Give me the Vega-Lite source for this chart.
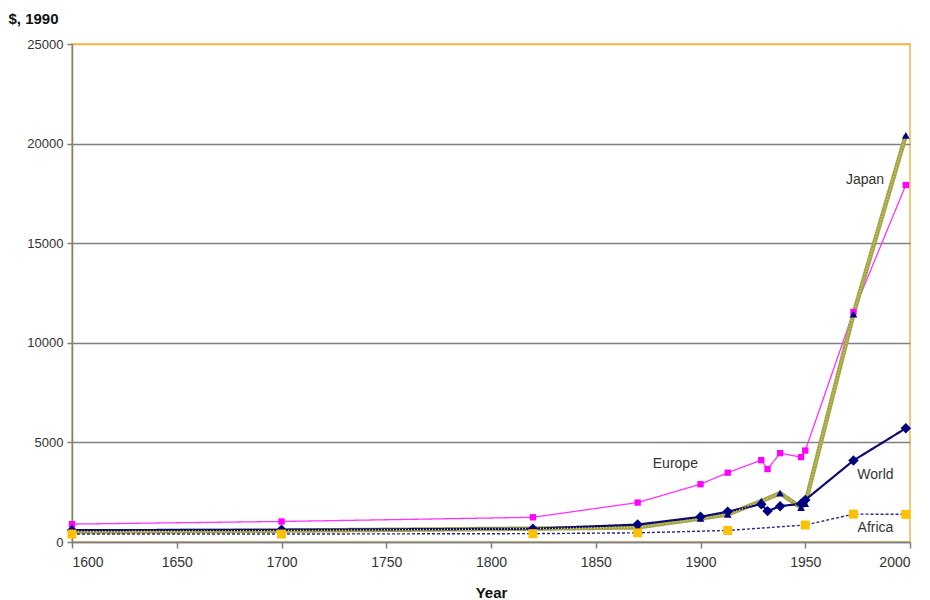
{
  "$schema": "https://vega.github.io/schema/vega-lite/v6.json",
  "width": 838,
  "height": 498,
  "autosize": "none",
  "padding": {"left": 72, "top": 44, "right": 20, "bottom": 58},
  "background": "white",
  "config": {
    "font": "Liberation Sans",
    "view": {"stroke": "#f5b54a", "strokeWidth": 1.5},
    "axis": {
      "labelFont": "Liberation Sans",
      "labelFontSize": 13,
      "labelColor": "#333333",
      "titleFont": "Liberation Sans",
      "titleFontSize": 15,
      "titleFontWeight": "bold",
      "titleColor": "#111111",
      "domainColor": "#7f7f7f",
      "domainWidth": 1.5,
      "tickColor": "#7f7f7f",
      "tickWidth": 1.5,
      "gridWidth": 1.3
    }
  },
  "datasets": {
    "series": [
      {"series": "Europe", "year": 1600, "gdp": 900},
      {"series": "Europe", "year": 1700, "gdp": 1030},
      {"series": "Europe", "year": 1820, "gdp": 1240},
      {"series": "Europe", "year": 1870, "gdp": 1980},
      {"series": "Europe", "year": 1900, "gdp": 2900},
      {"series": "Europe", "year": 1913, "gdp": 3480},
      {"series": "Europe", "year": 1929, "gdp": 4110},
      {"series": "Europe", "year": 1932, "gdp": 3660},
      {"series": "Europe", "year": 1938, "gdp": 4460},
      {"series": "Europe", "year": 1948, "gdp": 4260},
      {"series": "Europe", "year": 1950, "gdp": 4590},
      {"series": "Europe", "year": 1973, "gdp": 11550},
      {"series": "Europe", "year": 1998, "gdp": 17920},
      {"series": "Japan", "year": 1600, "gdp": 520},
      {"series": "Japan", "year": 1700, "gdp": 570},
      {"series": "Japan", "year": 1820, "gdp": 669},
      {"series": "Japan", "year": 1870, "gdp": 737},
      {"series": "Japan", "year": 1900, "gdp": 1180},
      {"series": "Japan", "year": 1913, "gdp": 1387},
      {"series": "Japan", "year": 1929, "gdp": 2050},
      {"series": "Japan", "year": 1938, "gdp": 2449},
      {"series": "Japan", "year": 1948, "gdp": 1725},
      {"series": "Japan", "year": 1950, "gdp": 1921},
      {"series": "Japan", "year": 1973, "gdp": 11439},
      {"series": "Japan", "year": 1998, "gdp": 20413},
      {"series": "World", "year": 1600, "gdp": 596},
      {"series": "World", "year": 1700, "gdp": 615},
      {"series": "World", "year": 1820, "gdp": 667},
      {"series": "World", "year": 1870, "gdp": 875},
      {"series": "World", "year": 1900, "gdp": 1262},
      {"series": "World", "year": 1913, "gdp": 1525},
      {"series": "World", "year": 1929, "gdp": 1900},
      {"series": "World", "year": 1932, "gdp": 1550},
      {"series": "World", "year": 1938, "gdp": 1800},
      {"series": "World", "year": 1948, "gdp": 1920},
      {"series": "World", "year": 1950, "gdp": 2111},
      {"series": "World", "year": 1973, "gdp": 4091},
      {"series": "World", "year": 1998, "gdp": 5709},
      {"series": "Africa", "year": 1600, "gdp": 400},
      {"series": "Africa", "year": 1700, "gdp": 400},
      {"series": "Africa", "year": 1820, "gdp": 420},
      {"series": "Africa", "year": 1870, "gdp": 460},
      {"series": "Africa", "year": 1913, "gdp": 580},
      {"series": "Africa", "year": 1950, "gdp": 852},
      {"series": "Africa", "year": 1973, "gdp": 1400},
      {"series": "Africa", "year": 1998, "gdp": 1390}
    ],
    "labels": [
      {"label": "Japan", "year": 1978.5, "gdp": 18150},
      {"label": "Europe", "year": 1888, "gdp": 3900},
      {"label": "World", "year": 1983.5, "gdp": 3350},
      {"label": "Africa", "year": 1983.5, "gdp": 680}
    ]
  },
  "layer": [
    {
      "data": {"name": "series"},
      "mark": {"type": "line", "strokeJoin": "round"},
      "encoding": {
        "x": {
          "field": "year", "type": "quantitative",
          "scale": {"domain": [1600, 2000], "nice": false, "zero": false},
          "axis": {
            "title": "Year",
            "values": [1600, 1650, 1700, 1750, 1800, 1850, 1900, 1950, 2000],
            "format": "d",
            "grid": false,
            "labelFontSize": 14,
            "tickSize": 6,
            "labelPadding": 7,
            "titlePadding": 16
          }
        },
        "y": {
          "field": "gdp", "type": "quantitative",
          "scale": {"domain": [0, 25000], "nice": false},
          "axis": {
            "title": "$, 1990",
            "titleAngle": 0,
            "titleAlign": "left",
            "titleBaseline": "alphabetic",
            "titleX": -64,
            "titleY": -21,
            "values": [0, 5000, 10000, 15000, 20000, 25000],
            "format": "d",
            "grid": true,
            "gridColor": {"condition": {"test": "datum.value === 25000", "value": "#f5b54a"}, "value": "#808080"},
            "tickSize": 5,
            "labelPadding": 4
          }
        },
        "detail": {"field": "series"},
        "order": {"field": "year"},
        "stroke": {
          "field": "series", "type": "nominal",
          "scale": {"domain": ["Africa", "Japan", "World", "Europe"], "range": ["#2a2a80", "#a3a34a", "#0d0d6e", "#ff33ff"]},
          "legend": null
        },
        "strokeWidth": {
          "field": "series", "type": "nominal",
          "scale": {"type": "ordinal", "domain": ["Africa", "Japan", "World", "Europe"], "range": [1.4, 4.5, 2.2, 1.3]},
          "legend": null
        },
        "strokeDash": {
          "field": "series", "type": "nominal",
          "scale": {"domain": ["Africa", "Japan", "World", "Europe"], "range": [[3, 2], [1, 0], [1, 0], [1, 0]]},
          "legend": null
        }
      }
    },
    {
      "data": {"name": "series"},
      "transform": [{"filter": "datum.series === 'Japan'"}],
      "mark": {"type": "line", "stroke": "#d6d66a", "strokeWidth": 1.5, "strokeDash": [1, 2]},
      "encoding": {
        "x": {"field": "year", "type": "quantitative"},
        "y": {"field": "gdp", "type": "quantitative"},
        "order": {"field": "year"}
      }
    },
    {
      "data": {"name": "series"},
      "mark": {"type": "point", "filled": true, "opacity": 1},
      "encoding": {
        "x": {"field": "year", "type": "quantitative"},
        "y": {"field": "gdp", "type": "quantitative"},
        "fill": {
          "field": "series", "type": "nominal",
          "scale": {"domain": ["Africa", "Japan", "World", "Europe"], "range": ["#ffc000", "#000080", "#000080", "#ff00ff"]},
          "legend": null
        },
        "shape": {
          "field": "series", "type": "nominal",
          "scale": {"domain": ["Africa", "Japan", "World", "Europe"], "range": ["square", "triangle-up", "diamond", "square"]},
          "legend": null
        },
        "size": {
          "field": "series", "type": "nominal",
          "scale": {"type": "ordinal", "domain": ["Africa", "Japan", "World", "Europe"], "range": [80, 60, 110, 40]},
          "legend": null
        }
      }
    },
    {
      "data": {"name": "labels"},
      "mark": {"type": "text", "font": "Liberation Sans", "fontSize": 14, "color": "#333333", "align": "center", "baseline": "middle"},
      "encoding": {
        "x": {"field": "year", "type": "quantitative"},
        "y": {"field": "gdp", "type": "quantitative"},
        "text": {"field": "label"}
      }
    }
  ]
}
